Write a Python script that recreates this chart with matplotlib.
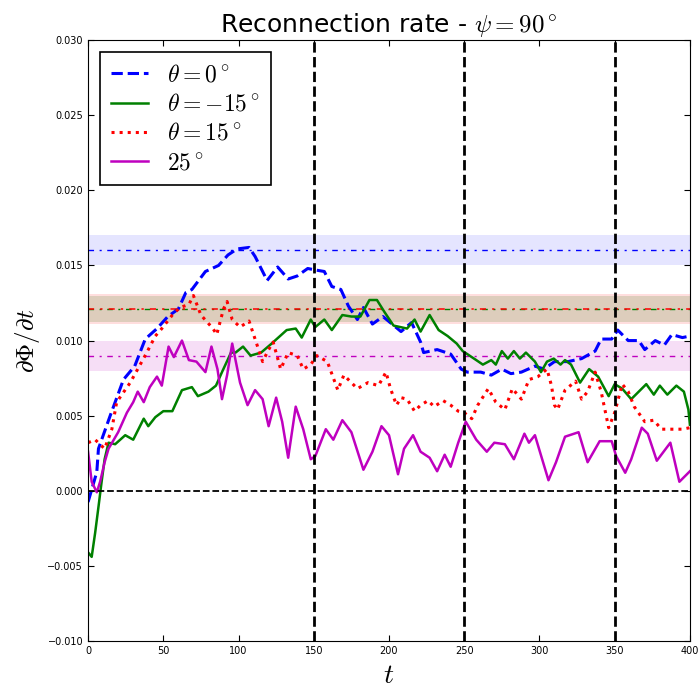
import numpy as np
from matplotlib import pyplot as plt

plt.rcParams['mathtext.fontset'] = 'cm'

# theta = 0 deg
t0 = [0, 5.8, 6.9, 14.7, 23.5, 31, 38, 45.8, 53, 60, 65, 69, 78, 86.7, 93, 99, 107, 111,
      119, 126, 133, 139, 146, 151, 157, 162, 168, 173, 179, 183, 189, 196, 208, 215, 221,
      223, 232, 241, 248, 252, 261, 268, 275, 281, 288, 297, 303, 310, 319, 328, 337, 341,
      348, 352, 359, 366, 370, 377, 383, 388, 395, 400]
r0 = [-0.00075, 0.00125, 0.0028, 0.005, 0.0074, 0.0083, 0.0101, 0.0108, 0.0116, 0.0121,
      0.0132, 0.0134, 0.0146, 0.0150, 0.0157, 0.0161, 0.0162, 0.0156, 0.0140, 0.0149,
      0.0141, 0.0143, 0.0148, 0.0147, 0.0146, 0.0136, 0.0134, 0.0123, 0.0114, 0.0122,
      0.0111, 0.0116, 0.0106, 0.0112, 0.0099, 0.0092, 0.0094, 0.0091, 0.0081, 0.0079,
      0.0079, 0.0077, 0.0081, 0.0078, 0.0079, 0.0083, 0.0081, 0.0086, 0.0086, 0.0088,
      0.0093, 0.0101, 0.0101, 0.0107, 0.0100, 0.0100, 0.0094, 0.0100, 0.0097, 0.0104,
      0.0102, 0.0103]

# theta = -15 deg
tm15 = [0, 2.4, 4.7, 7, 9, 11, 13.6, 18, 24.7, 30, 37, 40, 44.7, 50, 56, 62.4, 69, 73, 80,
        85, 89, 95, 98, 103, 108, 115, 122, 132, 138, 142, 148, 151, 157, 162, 169, 175,
        181, 187, 192, 197, 203, 212, 217, 221, 227, 233, 239, 245, 249, 258, 262.4, 268,
        271, 275, 279, 283, 287, 291, 297, 301, 305, 309.5, 314, 317, 321, 327, 333, 339,
        346, 350, 355, 361, 366, 371, 376, 380, 385, 391, 396, 399, 400]
rm15 = [-0.0041, -0.0044, -0.0028, -0.001, 0.0006, 0.0021, 0.0032, 0.0031, 0.0037, 0.0034,
        0.0048, 0.0043, 0.0049, 0.0053, 0.0053, 0.0067, 0.0069, 0.0063, 0.0066, 0.0070,
        0.0079, 0.0092, 0.0092, 0.0096, 0.0090, 0.0092, 0.0098, 0.0107, 0.0108, 0.0102,
        0.0114, 0.0109, 0.0114, 0.0107, 0.0117, 0.0116, 0.0116, 0.0127, 0.0127, 0.0119,
        0.0110, 0.0108, 0.0114, 0.0106, 0.0117, 0.0107, 0.0103, 0.0098, 0.0093, 0.0087,
        0.0084, 0.0087, 0.0084, 0.0093, 0.0088, 0.0093, 0.0088, 0.0092, 0.0086, 0.0079,
        0.0086, 0.0088, 0.0084, 0.0087, 0.0084, 0.0072, 0.0081, 0.0076, 0.0063, 0.0071,
        0.0068, 0.0061, 0.0066, 0.0071, 0.0064, 0.0070, 0.0064, 0.0070, 0.0066, 0.0054,
        0.0044]

# theta = 15 deg
tp15 = [0, 4.7, 11, 15.8, 19, 28, 33, 39, 44.7, 49, 56, 61, 67, 70, 75, 83, 85.5, 90,
        92.4, 95.8, 101, 107, 111, 116, 120, 123, 128, 133, 139, 143, 148, 152, 159, 166,
        170, 175, 179, 186, 193, 198, 201, 205, 208, 212, 217, 221, 226, 230, 236, 241,
        246, 250, 255, 259, 266, 271, 277, 282, 288, 293, 299, 305, 308, 310, 312, 317,
        324, 328, 332, 337, 341, 346, 350, 355, 359, 363, 370, 376, 381, 388, 395, 400]
rp15 = [0.0032, 0.0034, 0.0028, 0.0041, 0.0059, 0.0072, 0.0081, 0.0092, 0.0103, 0.0108,
        0.0117, 0.0122, 0.0124, 0.0130, 0.0117, 0.0108, 0.0104, 0.0121, 0.0126, 0.0114,
        0.0109, 0.0113, 0.0101, 0.0086, 0.0094, 0.0099, 0.0081, 0.0092, 0.0090, 0.0081,
        0.0084, 0.0090, 0.0086, 0.0067, 0.0077, 0.0072, 0.0068, 0.0072, 0.0070, 0.0079,
        0.0068, 0.0057, 0.0062, 0.0061, 0.0053, 0.0057, 0.0060, 0.0056, 0.0060, 0.0057,
        0.0053, 0.0052, 0.0048, 0.0057, 0.0068, 0.0059, 0.0054, 0.0068, 0.0061, 0.0074,
        0.0076, 0.0081, 0.0070, 0.0057, 0.0054, 0.0067, 0.0073, 0.0061, 0.0066, 0.0079,
        0.0066, 0.0042, 0.0052, 0.0071, 0.0066, 0.0056, 0.0046, 0.0047, 0.0041, 0.0041,
        0.0041, 0.0042]

# 25 deg
t25 = [0, 2.4, 5.8, 8, 11, 13.6, 20, 25.8, 30, 33, 37, 41, 45.8, 49, 53.5, 57, 62.4, 67,
       72, 78, 82, 86, 89, 92.4, 95.8, 101, 106, 111, 116, 120, 125, 129, 133, 138, 143,
       148, 151, 158, 163, 169, 175, 183, 189, 195, 200, 206, 210, 216, 221, 227, 232,
       237, 241, 246, 251, 258, 265, 270, 277, 283, 290, 293, 297, 306, 311, 317, 326,
       332, 340, 348, 351, 357, 361, 368, 372, 378, 387, 393, 400]
r25 = [0.0026, 0.0006, -0.0001, 0.0006, 0.0019, 0.0028, 0.0039, 0.0052, 0.0059, 0.0066,
       0.0059, 0.0069, 0.0076, 0.0070, 0.0096, 0.0089, 0.0100, 0.0087, 0.0086, 0.0079,
       0.0096, 0.0081, 0.0061, 0.0077, 0.0098, 0.0072, 0.0057, 0.0067, 0.0061, 0.0043,
       0.0062, 0.0046, 0.0022, 0.0056, 0.0041, 0.0021, 0.0023, 0.0041, 0.0034, 0.0047,
       0.0039, 0.0014, 0.0026, 0.0043, 0.0037, 0.0011, 0.0028, 0.0037, 0.0026, 0.0022,
       0.0013, 0.0024, 0.0016, 0.0032, 0.0046, 0.0034, 0.0026, 0.0032, 0.0031, 0.0021,
       0.0038, 0.0032, 0.0037, 0.0007, 0.0019, 0.0036, 0.0039, 0.0019, 0.0033, 0.0033,
       0.0023, 0.0012, 0.0021, 0.0042, 0.0038, 0.0020, 0.0032, 0.0006, 0.0013]

# mean rate and spread for each case
mean_0, spread_0 = 0.016, 0.001
mean_m15, spread_m15 = 0.0121, 0.00085
mean_p15, spread_p15 = 0.0121, 0.001
mean_25, spread_25 = 0.009, 0.001

t_marks = [150, 250, 350]

fig = plt.figure(figsize=(6.99, 6.89), dpi=100)
ax = fig.add_axes([0.126, 0.0697, 0.861, 0.872])

mean_style = (0, (4, 4, 1.5, 4))
ax.axhspan(mean_0 - spread_0, mean_0 + spread_0, color='b', alpha=0.1, lw=0)
ax.axhspan(mean_m15 - spread_m15, mean_m15 + spread_m15, color='g', alpha=0.15, lw=0)
ax.axhspan(mean_p15 - spread_p15, mean_p15 + spread_p15, color='r', alpha=0.13, lw=0)
ax.axhspan(mean_25 - spread_25, mean_25 + spread_25, color='m', alpha=0.13, lw=0)
ax.axhline(mean_0, color='b', ls=mean_style, lw=1)
ax.axhline(mean_m15, color='g', ls=mean_style, lw=1)
ax.axhline(mean_p15, color='r', ls=mean_style, lw=1.1)
ax.axhline(mean_25, color='m', ls=mean_style, lw=1)

ax.plot(t0, r0, 'b--', lw=2.2, label=r'$\theta = 0^\circ$')
ax.plot(tm15, rm15, 'g-', lw=1.8, label=r'$\theta = -15^\circ$')
ax.plot(tp15, rp15, 'r:', lw=2.2, label=r'$\theta = 15^\circ$')
ax.plot(t25, r25, 'm-', lw=1.8, label=r'$25^\circ$')

ax.axhline(0, color='k', ls='--', lw=1.3)
for tm in t_marks:
    ax.axvline(tm, color='k', ls='--', lw=2)

ax.set_xlim(0, 400)
ax.set_ylim(-0.010, 0.030)
ax.set_xticks(np.arange(0, 401, 50))
ax.set_yticks(np.arange(-0.010, 0.0301, 0.005))
ax.yaxis.set_major_formatter(
    plt.FuncFormatter(lambda v, pos: ('%.3f' % v).replace('-', '\u2212')))
ax.tick_params(direction='in', top=True, right=True, labelsize=7, length=4)

ax.set_title(r'Reconnection rate - $\psi = 90^\circ$', fontsize=18)
ax.set_xlabel(r'$t$', fontsize=20)
ax.set_ylabel(r'$\partial\Phi / \partial t$', fontsize=18)

leg = ax.legend(loc='upper left', fontsize=17, handlelength=1.6, fancybox=False,
                borderpad=0.45, labelspacing=0.22)
leg.get_frame().set_edgecolor('k')
leg.get_frame().set_linewidth(1.2)
leg.get_frame().set_alpha(1)

fig.savefig('out.png', dpi=100)
